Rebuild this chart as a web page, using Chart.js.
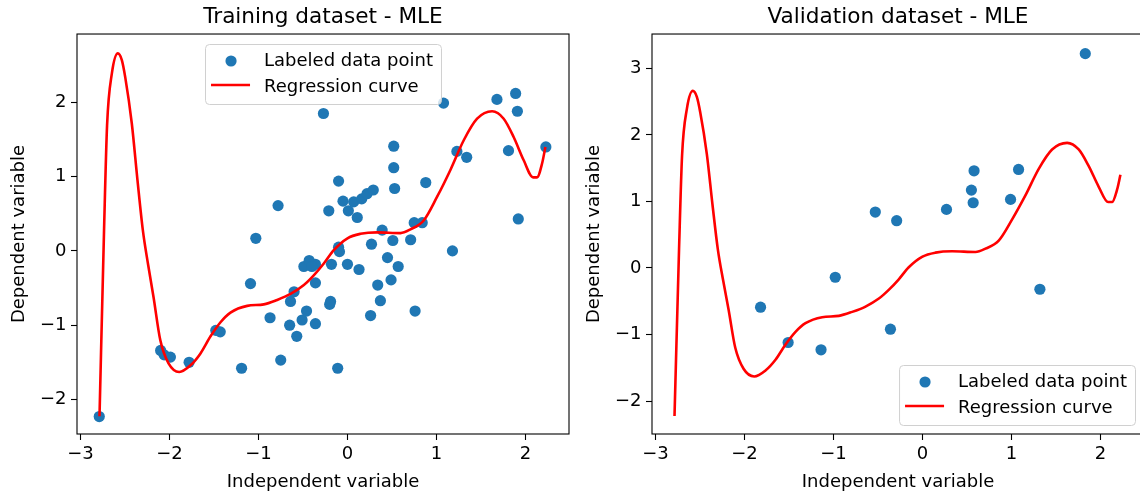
<!DOCTYPE html>
<html>
<head>
<meta charset="utf-8">
<title>MLE regression</title>
<script src="https://cdn.jsdelivr.net/npm/chart.js@4.4.1/dist/chart.umd.min.js"></script>
<style>
  html, body { margin: 0; padding: 0; background: #fff; overflow: hidden; }
  #wrap { position: relative; width: 1150px; height: 495px; }
  #wrap canvas { position: absolute; top: 0; }
  #trainChart { left: 0; }
  #valChart { left: 575px; }
</style>
</head>
<body>
<div id="wrap">
  <canvas id="trainChart" width="575" height="495"></canvas>
  <canvas id="valChart" width="575" height="495"></canvas>
</div>
<script>
// training samples
const trainX = [-2.79, -2.10, -2.06, -1.99, -1.78, -1.48, -1.43, -1.19, -1.09, -1.03,
                -0.87, -0.75, -0.78, -0.65, -0.64, -0.60, -0.57, -0.51, -0.46, -0.36,
                -0.36, -0.49, -0.43, -0.36, -0.40, -0.19, -0.20, -0.18, -0.11, -0.10,
                -0.09, 0.00, 0.13, 0.27, -0.27, -0.10, -0.21, -0.05, 0.01, 0.11,
                0.07, 0.16, 0.22, 0.29, 0.39, 0.51, 0.71, 0.75, 0.84, 0.52,
                0.52, 0.53, 0.88, 1.08, 1.23, 1.34, 1.68, 1.89, 1.91, 1.81,
                2.23, 1.92, 1.18, 0.45, 0.57, 0.34, 0.49, 0.37, 0.26, 0.76];
const trainY = [-2.23, -1.34, -1.40, -1.43, -1.50, -1.07, -1.09, -1.58, -0.44, 0.17,
                -0.90, -1.47, 0.61, -1.00, -0.68, -0.55, -1.15, -0.93, -0.81, -0.98,
                -0.43, -0.21, -0.13, -0.18, -0.21, -0.68, -0.72, -0.18, -1.58, 0.05,
                -0.01, -0.18, -0.25, 0.09, 1.85, 0.94, 0.54, 0.67, 0.54, 0.45,
                0.66, 0.70, 0.77, 0.82, 0.28, 0.14, 0.15, 0.38, 0.38, 1.41,
                1.12, 0.84, 0.92, 1.99, 1.34, 1.26, 2.04, 2.12, 1.88, 1.35,
                1.40, 0.43, 0.00, -0.09, -0.21, -0.46, -0.39, -0.67, -0.87, -0.81];

// validation samples
const valX = [-1.82, -1.51, -1.14, -0.98, -0.53, -0.29, -0.36, 0.27, 0.58, 0.55, 0.57, 0.99, 1.08, 1.32, 1.83];
const valY = [-0.59, -1.12, -1.23, -0.14, 0.84, 0.71, -0.92, 0.88, 1.46, 1.17, 0.98, 1.03, 1.48, -0.32, 3.22];

// fitted regression curve
const curveX = [-2.787, -2.736, -2.702, -2.648, -2.581, -2.536, -2.498, -2.424, -2.360, -2.300,
                -2.240, -2.180, -2.104, -2.011, -1.891, -1.764, -1.652, -1.539, -1.427, -1.315,
                -1.127, -0.94, -0.79, -0.64, -0.49, -0.379, -0.266, -0.154, 0.0, 0.146,
                0.334, 0.596, 0.708, 0.857, 1.008, 1.157, 1.307, 1.457, 1.626, 1.756,
                1.869, 1.981, 2.087, 2.131, 2.188, 2.225];
const curveY = [-2.225, 0.28, 1.69, 2.39, 2.66, 2.57, 2.34, 1.715, 0.95, 0.28,
                -0.19, -0.62, -1.20, -1.515, -1.63, -1.54, -1.38, -1.15, -0.96, -0.83,
                -0.74, -0.72, -0.66, -0.58, -0.46, -0.33, -0.17, 0.01, 0.17, 0.23,
                0.25, 0.24, 0.29, 0.41, 0.73, 1.09, 1.49, 1.78, 1.88, 1.78,
                1.53, 1.22, 0.99, 0.99, 1.18, 1.40];

const xTicks = [-3, -2, -1, 0, 1, 2];
const yTicksTrain = [-2, -1, 0, 1, 2];
const yTicksVal = [-2, -1, 0, 1, 2, 3];

const X_LIMITS = [-3.04, 2.49];
const Y_LIMITS_TRAIN = [-2.465, 2.92];
const Y_LIMITS_VAL = [-2.495, 3.515];

const FONT = "'DejaVu Sans', sans-serif";
const POINT_BLUE = '#1f77b4';
const CURVE_RED = '#ff0000';

Chart.defaults.font.family = FONT;
Chart.defaults.font.size = 18;
Chart.defaults.color = '#000';

const toPoints = (xs, ys) => xs.map((x, i) => ({ x: x, y: ys[i] }));
const fmtTick = (v) => (v < 0 ? '\u2212' + Math.abs(v) : String(v));

// full box around the plot area, like matplotlib spines
const axesFrame = {
    id: 'axesFrame',
    afterDatasetsDraw(chart) {
        const { ctx, chartArea: a } = chart;
        ctx.save();
        ctx.strokeStyle = '#000';
        ctx.lineWidth = 1.1;
        ctx.strokeRect(a.left, a.top, a.right - a.left, a.bottom - a.top);
        ctx.restore();
    }
};

// legend drawn inside the axes
const insetLegend = {
    id: 'insetLegend',
    afterDraw(chart, args, opts) {
        const { ctx, chartArea: a } = chart;
        const sets = chart.data.datasets;
        ctx.save();
        ctx.font = '18px ' + FONT;
        const textW = Math.max(...sets.map(d => ctx.measureText(d.label).width));
        const w = 59 + textW + 8;
        const h = 60;
        let x0, y0;
        if (opts.loc === 'lower right') {
            x0 = a.right - 9 - w;
            y0 = a.bottom - 9 - h;
        } else {
            x0 = (a.left + a.right) / 2 - w / 2;
            y0 = a.top + 10;
        }
        ctx.beginPath();
        ctx.roundRect(x0 + 0.5, y0 + 0.5, w, h, 4);
        ctx.fillStyle = 'rgba(255,255,255,0.8)';
        ctx.fill();
        ctx.strokeStyle = '#d0d0d0';
        ctx.lineWidth = 1;
        ctx.stroke();

        const rowMid = [17, 41];
        const rowBase = [22, 48];
        sets.forEach((d, i) => {
            const cy = y0 + rowMid[i];
            if (d.showLine) {
                ctx.beginPath();
                ctx.moveTo(x0 + 6, cy);
                ctx.lineTo(x0 + 45, cy);
                ctx.strokeStyle = d.borderColor;
                ctx.lineWidth = d.borderWidth;
                ctx.stroke();
            } else {
                ctx.beginPath();
                ctx.arc(x0 + 26, cy, d.pointRadius, 0, Math.PI * 2);
                ctx.fillStyle = d.backgroundColor;
                ctx.fill();
            }
            ctx.fillStyle = '#000';
            ctx.textBaseline = 'alphabetic';
            ctx.textAlign = 'left';
            ctx.fillText(d.label, x0 + 59, y0 + rowBase[i]);
        });
        ctx.restore();
    }
};

function makeAxis(limits, ticks, title, isX) {
    return {
        type: 'linear',
        min: limits[0],
        max: limits[1],
        afterBuildTicks: (scale) => { scale.ticks = ticks.map(v => ({ value: v })); },
        afterFit: (scale) => {
            if (isX) scale.height = 61; else scale.width = 77;
        },
        border: { display: false },
        grid: {
            display: true,
            drawOnChartArea: false,
            drawTicks: true,
            tickLength: 6,
            tickWidth: 1.1,
            tickColor: '#000'
        },
        ticks: {
            padding: isX ? 4 : 4.5,
            autoSkip: false,
            maxRotation: 0,
            callback: (v) => fmtTick(v),
            font: { size: 18 }
        },
        title: {
            display: true,
            text: title,
            font: { size: 18 },
            padding: isX ? { top: 0, bottom: 2 } : { top: 8.4, bottom: 0 }
        }
    };
}

function createChart(canvasId, titleText, xs, ys, yLimits, yTicks, legendLoc) {
    return new Chart(document.getElementById(canvasId), {
        type: 'scatter',
        data: {
            datasets: [
                {
                    label: 'Labeled data point',
                    data: toPoints(xs, ys),
                    backgroundColor: POINT_BLUE,
                    borderColor: POINT_BLUE,
                    borderWidth: 0,
                    pointRadius: 5.6,
                    pointHoverRadius: 5.6,
                    showLine: false,
                    order: 1
                },
                {
                    label: 'Regression curve',
                    data: toPoints(curveX, curveY),
                    borderColor: CURVE_RED,
                    borderWidth: 2.6,
                    pointRadius: 0,
                    showLine: true,
                    fill: false,
                    cubicInterpolationMode: 'monotone',
                    order: 0
                }
            ]
        },
        options: {
            responsive: false,
            devicePixelRatio: 1,
            animation: false,
            events: [],
            layout: { padding: { left: 0, right: 6, top: 0, bottom: 0 } },
            plugins: {
                legend: { display: false },
                tooltip: { enabled: false },
                title: {
                    display: true,
                    text: titleText,
                    fullSize: false,
                    color: '#000',
                    font: { size: 21.6, weight: 'normal' },
                    padding: { top: 4.6, bottom: 3.5 }
                },
                insetLegend: { loc: legendLoc }
            },
            scales: {
                x: makeAxis(X_LIMITS, xTicks, 'Independent variable', true),
                y: makeAxis(yLimits, yTicks, 'Dependent variable', false)
            }
        },
        plugins: [axesFrame, insetLegend]
    });
}

createChart('trainChart', 'Training dataset - MLE', trainX, trainY, Y_LIMITS_TRAIN, yTicksTrain, 'upper center');
createChart('valChart', 'Validation dataset - MLE', valX, valY, Y_LIMITS_VAL, yTicksVal, 'lower right');
</script>
</body>
</html>
